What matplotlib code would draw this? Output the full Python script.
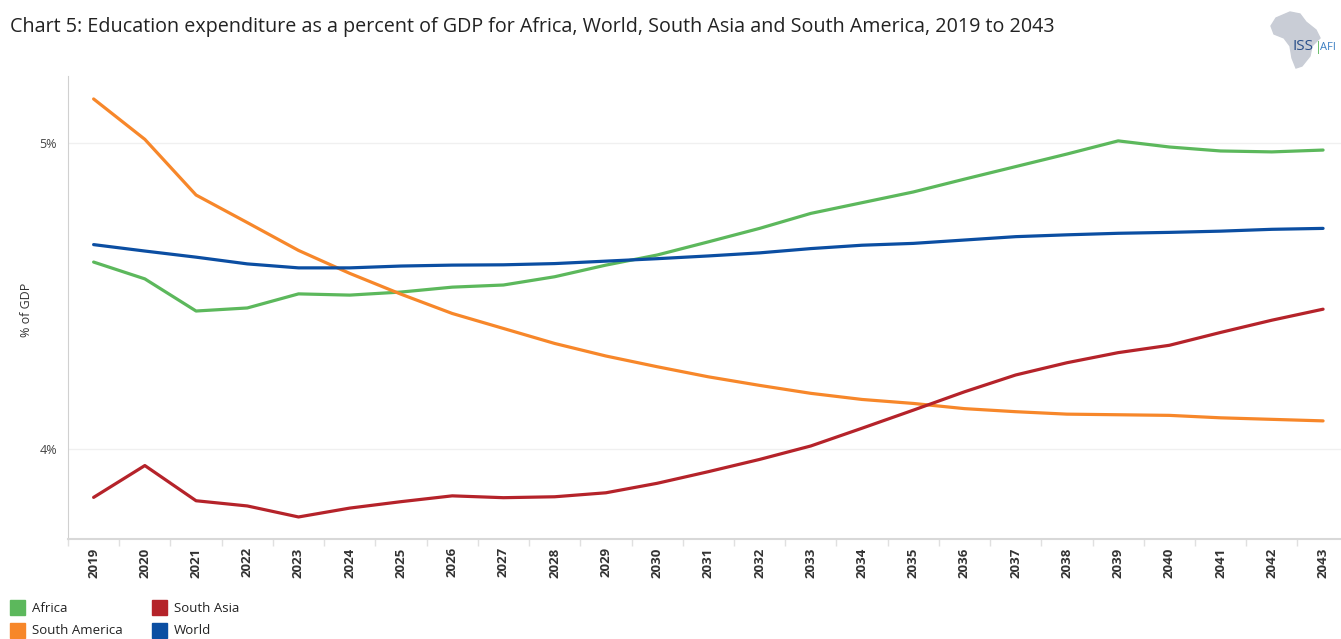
import numpy as np
import matplotlib
matplotlib.use('Agg')
import matplotlib.pyplot as plt
from matplotlib.patches import Rectangle, Polygon

years = list(range(2019, 2044))

# % of GDP
africa = [4.611, 4.556, 4.451, 4.461, 4.507, 4.503, 4.513, 4.529, 4.536, 4.563,
          4.601, 4.634, 4.677, 4.721, 4.770, 4.805, 4.840, 4.882, 4.923, 4.964,
          5.007, 4.987, 4.974, 4.971, 4.977]
world = [4.668, 4.647, 4.627, 4.605, 4.592, 4.592, 4.598, 4.601, 4.602, 4.606,
         4.614, 4.622, 4.631, 4.641, 4.655, 4.666, 4.672, 4.683, 4.694, 4.700,
         4.705, 4.708, 4.712, 4.718, 4.721]
south_asia = [3.842, 3.946, 3.831, 3.814, 3.778, 3.807, 3.828, 3.847, 3.841, 3.844,
              3.857, 3.888, 3.926, 3.966, 4.010, 4.068, 4.127, 4.187, 4.242, 4.282,
              4.315, 4.339, 4.381, 4.421, 4.457]
south_america = [5.144, 5.012, 4.830, 4.740, 4.649, 4.574, 4.506, 4.443, 4.394, 4.345,
                 4.304, 4.269, 4.236, 4.208, 4.182, 4.162, 4.149, 4.132, 4.122, 4.114,
                 4.112, 4.110, 4.102, 4.097, 4.092]

series = [
    ('Africa', africa, '#5cb85c'),
    ('South America', south_america, '#f7872a'),
    ('South Asia', south_asia, '#b5232a'),
    ('World', world, '#0b4ea2'),
]

plt.rcParams['font.family'] = ['Open Sans', 'DejaVu Sans']

W, H = 1341, 639
fig = plt.figure(figsize=(W / 100, H / 100), dpi=100)
ax = fig.add_axes([68 / W, 1 - 539 / H, 1 - 68 / W, (539 - 76) / H])

for name, vals, col in series:
    ax.plot(years, vals, color=col, lw=2.3, solid_capstyle='round', zorder=3)

ax.set_xlim(2018.53, 2043.35)
ax.set_ylim(3.706, 5.219)

ax.set_yticks([4, 5])
ax.set_yticklabels(['4%', '5%'], fontsize=9, color='#444444')
ax.yaxis.grid(True, color='#f0f0f0', lw=1)
ax.tick_params(axis='y', length=0, pad=8)

ax.set_xticks(years)
ax.set_xticklabels([str(y) for y in years], rotation=90, fontsize=9.5,
                   fontweight='bold', color='#333333')
ax.set_xticks([y + 0.5 for y in years[:-1]] + [2018.5], minor=True)
ax.tick_params(axis='x', which='major', length=0, pad=6)
ax.tick_params(axis='x', which='minor', length=5, color='#e0e0e0', width=1)

for s in ['top', 'right']:
    ax.spines[s].set_visible(False)
ax.spines['left'].set_color('#d0d0d0')
ax.spines['bottom'].set_color('#d8d8d8')
ax.spines['bottom'].set_linewidth(1.5)

fig.text(27 / W, 1 - 310 / H, '% of GDP', fontsize=9, color='#333333',
         rotation=90, va='center', ha='center')

fig.text(10 / W, 1 - 27 / H, 'Chart 5: Education expenditure as a percent of GDP for Africa, '
         'World, South Asia and South America, 2019 to 2043',
         fontsize=14.2, color='#222222', va='center', ha='left')

# logo: rough grey silhouette with text
outline = [(1276, 18), (1290, 12), (1300, 14), (1306, 22), (1316, 30), (1320, 38),
           (1312, 46), (1310, 56), (1302, 66), (1296, 68), (1292, 58), (1290, 46),
           (1284, 38), (1274, 34), (1271, 26)]
fig.patches.append(Polygon([(x / W, 1 - y / H) for x, y in outline], closed=True,
                           transform=fig.transFigure, color='#c9cdd6', zorder=0))
fig.text(1292 / W, 1 - 47 / H, 'ISS', fontsize=11, color='#2a4f8a',
         va='center', ha='left')
fig.text(1315 / W, 1 - 47 / H, '|', fontsize=9, color='#5cb85c',
         va='center', ha='left')
fig.text(1320 / W, 1 - 47 / H, 'AFI', fontsize=8, color='#3c7fc2',
         va='center', ha='left')

# legend
legend_pos = [(10, 600), (10, 623), (152, 600), (152, 623)]
for (name, vals, col), (lx, ly) in zip(series, legend_pos):
    fig.patches.append(Rectangle((lx / W, 1 - (ly + 15) / H), 15 / W, 15 / H,
                                 transform=fig.transFigure, color=col))
    fig.text((lx + 22) / W, 1 - (ly + 8) / H, name, fontsize=9.5,
             color='#222222', va='center', ha='left')

fig.savefig('out.png', dpi=100)
